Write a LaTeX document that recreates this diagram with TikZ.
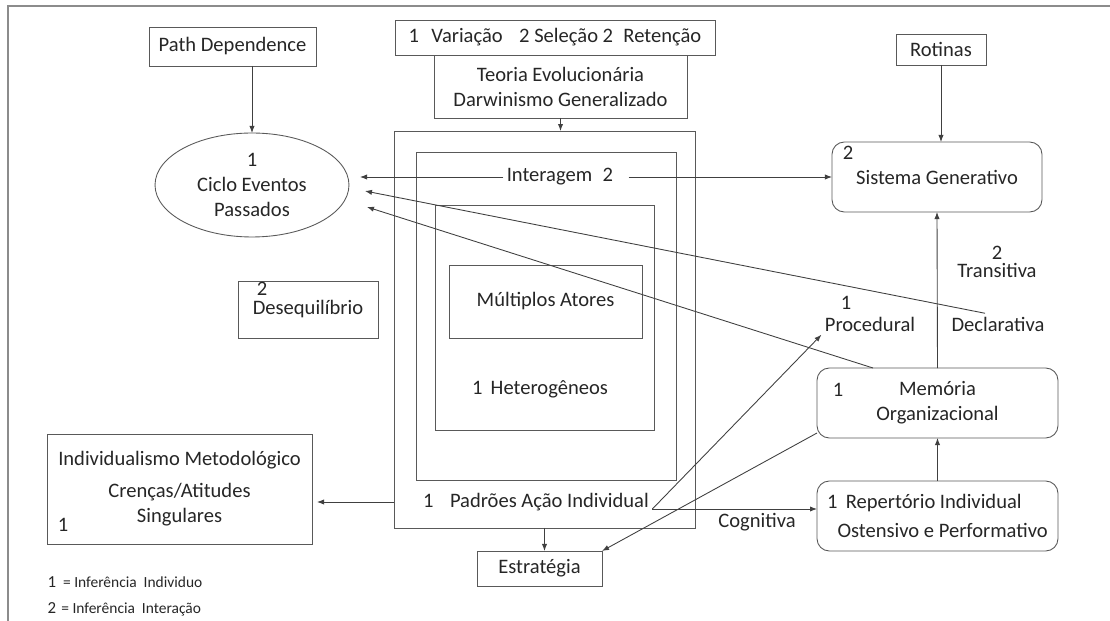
\documentclass[tikz,border=0pt]{standalone}
\usepackage{fontspec}
\setmainfont{Carlito}
\usetikzlibrary{shapes.geometric,arrows.meta}

\tikzset{
  box/.style={draw=black!65, line width=0.5pt, inner sep=2pt, outer sep=0pt, align=center},
  roundbox/.style={box, rounded corners=7pt},
  txt/.style={inner sep=2pt, outer sep=0pt, align=center},
  num/.style={anchor=center, inner sep=0pt},
  link/.style={draw=black!75, line width=0.5pt, -{Latex[length=4pt,width=3pt]}},
}

\begin{document}
\begin{tikzpicture}[x=0.02cm, y=-0.02cm, font=\fontsize{11.7}{14.2}\selectfont, text=black!85]
  \useasboundingbox (0,0) rectangle (1110,621);
  \draw[black!45, line width=0.6pt] (1110,6) -- (8,6) -- (8,621);

  \node[box, minimum width=3.34cm, minimum height=0.78cm] (pathdep) at (232.5,46.5) {Path Dependence};
  \node[box, ellipse, minimum width=3.88cm, minimum height=2.08cm] (ciclo) at (252,185) {1\\Ciclo Eventos\\Passados};
  \node[box, minimum width=6.4cm, minimum height=0.7cm] (selecao) at (555,37.5)
    {1\hspace{0.6em}Variação\hspace{0.8em}2 Seleção 2\hspace{0.5em}Retenção};
  \node[box, minimum width=5.06cm, minimum height=1.26cm] (teoria) at (560.5,86.5)
    {Teoria Evolucionária\\Darwinismo Generalizado};
  \node[box, minimum width=6.02cm, minimum height=7.94cm] (outerbox) at (544.5,329.5) {};
  \node[box, minimum width=5.2cm, minimum height=6.56cm] (interbox) at (546,316) {};
  \node[box, minimum width=4.38cm, minimum height=4.5cm] (heterbox) at (544.5,317.5) {};
  \node[box, minimum width=3.86cm, minimum height=1.46cm] (atores) at (545.5,301.5) {Múltiplos Atores};
  \node[box, minimum width=2.5cm, minimum height=0.7cm] (estrategia) at (539.5,568.5) {Estratégia};
  \node[box, minimum width=1.8cm, minimum height=0.62cm] (rotinas) at (941,49.5) {Rotinas};
  \node[roundbox, minimum width=4.2cm, minimum height=1.4cm,
        label={[num, shift={(16,11)}]north west:2}] (sistema) at (937,177) {Sistema Generativo};
  \node[roundbox, minimum width=4.82cm, minimum height=1.4cm,
        label={[num, shift={(21,22)}]north west:1}] (memoria) at (937.5,403) {Memória\\Organizacional};
  \node[roundbox, align=left, minimum width=4.82cm, minimum height=1.4cm, font=\fontsize{11.7}{17}\selectfont]
    (repertorio) at (937.5,516) {1\hspace{0.4em}Repertório Individual\\\hspace{0.5em}Ostensivo e Performativo};
  \node[box, minimum width=2.8cm, minimum height=1.14cm,
        label={[num, shift={(24,8)}]north west:2}] (desequilibrio) at (308,309.5) {\raisebox{-4pt}{Desequilíbrio}};
  \node[box, minimum width=5.3cm, minimum height=2.2cm,
        label={[num, shift={(16,-19)}]south west:1}] (individualismo) at (179.5,489)
    {Individualismo Metodológico\\[4pt]Crenças/Atitudes\\Singulares};

  \node[txt] (interagem) at (566,177) {Interagem\hspace{0.5em}2\hspace{0.6em}};
  \node[txt] (heterog) at (540,389) {1\hspace{0.4em}Heterogêneos};
  \node[txt] (padroes) at (536,502) {1\hspace{0.8em}Padrões Ação Individual};
  \node[txt, font=\fontsize{11.7}{10.4}\selectfont] (transitiva) at (997,262) {2\\Transitiva};
  \node[txt, label={[txt, shift={(-24,0)}]above:1}] (procedural) at (870,324) {Procedural};
  \node[txt] (declarativa) at (998,324) {Declarativa};
  \node[txt] (cognitiva) at (757,522) {Cognitiva};
  \node[txt, anchor=west] (legenda1) at (44,582)
    {\fontsize{9.6}{11}\selectfont 1\hspace{4pt}\fontsize{8.8}{11}\selectfont= Inferência\hspace{2pt} Individuo};
  \node[txt, anchor=west] (legenda2) at (44,609)
    {\fontsize{9.6}{11}\selectfont 2\hspace{3pt}\fontsize{8.8}{11}\selectfont= Inferência\hspace{2pt} Interação};

  \draw[link] (ciclo.north |- pathdep.south) -- (ciclo.north);
  \draw[link] (teoria.south) -- (teoria.south |- outerbox.north);
  \draw[link] (outerbox.south) -- (outerbox.south |- estrategia.north);
  \draw[link] (rotinas.south) -- (rotinas.south |- sistema.north);
  \draw[link] (memoria.north) -- (sistema.south);
  \draw[link] (repertorio.north) -- (memoria.south);
  \draw[link, shorten >=0.22cm] (interagem.west) -- (ciclo.east |- interagem.west);
  \draw[link] (interagem.east) -- (sistema.west |- interagem.east);
  \draw[link] ([xshift=-0.26cm]declarativa.north) -- ([shift={(16,6)}]ciclo.east);
  \draw[link] ([xshift=-1.29cm]memoria.north) -- ([shift={(18,22)}]ciclo.east);
  \coordinate (pa) at ([shift={(0,7)}]padroes.east);
  \draw[link] (pa) -- (procedural.south west);
  \draw[link] (pa) -- (pa -| repertorio.west);
  \draw[link] ([yshift=0.1cm]memoria.south west) -- (estrategia.north east);
  \draw[link, shorten >=0.1cm] (outerbox.west |- padroes) -- (individualismo.east |- padroes);
\end{tikzpicture}
\end{document}
